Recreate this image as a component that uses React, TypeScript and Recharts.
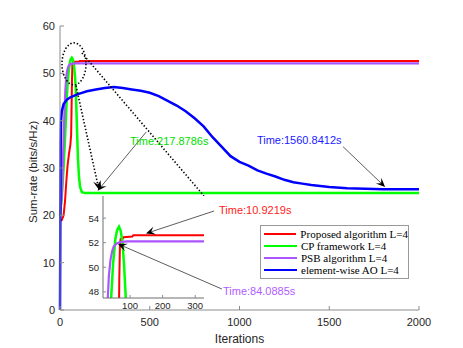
import React from "react";
import { LineChart, Line, XAxis, YAxis, ReferenceLine, ReferenceDot, CartesianGrid } from "recharts";

const W = 463;
const H = 348;

const redIter = [0, 10, 20, 28, 35, 42, 50, 58, 62, 65, 67, 69, 71, 78, 80, 107, 110, 2000];
const redRate = [18.8, 19, 20, 23, 27, 30.5, 33, 35, 37, 44, 49, 51.8, 52.3, 52.35, 52.45, 52.5, 52.6, 52.6];

const greenIter = [0, 10, 20, 30, 38, 42, 48, 55, 60, 66, 71, 77, 82, 87, 90, 95, 100, 106, 112, 122, 140, 2000];
const greenRate = [20, 24, 30, 38, 45, 47.5, 50.3, 52.3, 53, 53.3, 53, 52, 50, 47.5, 44, 38, 32, 28, 26, 24.9, 24.7, 24.7];

const purpleIter = [0, 10, 15, 20, 25, 30, 35, 40, 45, 50, 60, 70, 90, 2000];
const purpleRate = [20, 24, 30, 36, 42, 46.5, 49.3, 50.6, 51.3, 51.7, 51.95, 52.05, 52.1, 52.1];

const blueIter = [0, 2, 4, 6, 10, 20, 40, 60, 100, 150, 200, 250, 300, 350, 400, 450, 500, 550, 600, 650, 700, 750, 800, 850, 900, 950, 1000, 1050, 1100, 1150, 1200, 1250, 1300, 1350, 1400, 1450, 1500, 1600, 1700, 1800, 2000];
const blueRate = [0, 20, 35, 40, 42, 43.5, 44.5, 45, 45.6, 46.2, 46.6, 46.9, 47.1, 46.9, 46.6, 46.3, 45.9, 45.2, 44.2, 43.2, 42, 40.5, 38.8, 36.5, 34.5, 32.5, 31.3, 30.5, 29.5, 28.8, 28.2, 27.5, 27, 26.7, 26.4, 26.2, 26, 25.7, 25.6, 25.5, 25.5];

const xTicks = [0, 500, 1000, 1500, 2000];
const yTicks = [0, 10, 20, 30, 40, 50, 60];
const insetXTicks = [100, 200, 300];
const insetYTicks = [48, 50, 52, 54];

const series = [
  { name: "Proposed algorithm L=4", color: "#ff0000", width: 2, iter: redIter, rate: redRate },
  { name: "CP framework L=4", color: "#00ff00", width: 2.5, iter: greenIter, rate: greenRate },
  { name: "PSB algorithm L=4", color: "#aa55ff", width: 2.2, iter: purpleIter, rate: purpleRate },
  { name: "element-wise AO L=4", color: "#0000ff", width: 2.5, iter: blueIter, rate: blueRate },
];

const toRows = (iter: number[], rate: number[]) => iter.map((x, i) => ({ x, v: rate[i] }));

const SANS = "'Liberation Sans', Arial, Helvetica, sans-serif";
const SERIF = "'Liberation Serif', 'Times New Roman', serif";
const AXIS = "#8c8c8c";
const TXT = "#262626";

function tickFactory(side: "bottom" | "top" | "left" | "right", len: number, fs: number, gap: number, label: boolean) {
  return (p: any) => {
    const { x, y, payload } = p;
    if (side === "bottom" || side === "top") {
      const dir = side === "bottom" ? -1 : 1;
      return (
        <g>
          <line x1={x} y1={y} x2={x} y2={y + dir * len} stroke={AXIS} />
          {label && (
            <text x={x} y={y + gap} textAnchor="middle" fontSize={fs} fontFamily={SANS} fill={TXT}>
              {payload.value}
            </text>
          )}
        </g>
      );
    }
    const dir = side === "left" ? 1 : -1;
    return (
      <g>
        <line x1={x} y1={y} x2={x + dir * len} y2={y} stroke={AXIS} />
        {label && (
          <text x={x - gap} y={y + fs * 0.36} textAnchor="end" fontSize={fs} fontFamily={SANS} fill={TXT}>
            {payload.value}
          </text>
        )}
      </g>
    );
  };
}

function arrowShape(color: string, dash?: string, head = true, sw = 0.8) {
  return (p: any) => {
    const { x1, y1, x2, y2 } = p;
    const dx = x2 - x1;
    const dy = y2 - y1;
    const len = Math.sqrt(dx * dx + dy * dy) || 1;
    const ux = dx / len;
    const uy = dy / len;
    const nx = -uy;
    const ny = ux;
    const L = 9;
    const Wd = 4;
    const bx = x2 - ux * L;
    const by = y2 - uy * L;
    const mx = x2 - ux * L * 0.6;
    const my = y2 - uy * L * 0.6;
    return (
      <g>
        <line x1={x1} y1={y1} x2={head ? mx : x2} y2={head ? my : y2} stroke={color} strokeWidth={sw} strokeDasharray={dash} />
        {head && (
          <polygon
            points={`${x2},${y2} ${bx + nx * Wd},${by + ny * Wd} ${mx},${my} ${bx - nx * Wd},${by - ny * Wd}`}
            fill="#000"
          />
        )}
      </g>
    );
  };
}

function textShape(text: string, color: string) {
  return (p: any) => (
    <text x={p.cx} y={p.cy + 4} fontSize={11} fontFamily={SANS} fill={color}>
      {text}
    </text>
  );
}

const ellipseShape = (p: any) => (
  <ellipse cx={p.cx} cy={p.cy} rx={12} ry={21} fill="none" stroke="#000" strokeWidth={1.6} strokeDasharray="1.4 2" />
);

function MainChart() {
  return (
    <LineChart width={W} height={H} margin={{ top: 26, right: 44, left: 0, bottom: 8 }}>
      <XAxis
        xAxisId="b"
        type="number"
        dataKey="x"
        domain={[0, 2000]}
        ticks={xTicks}
        interval={0}
        height={30}
        tickSize={0}
        tickMargin={0}
        stroke={AXIS}
        tick={tickFactory("bottom", 4, 11, 16, true)}
        label={{ value: "Iterations", position: "insideBottom", offset: -3, fontSize: 12, fontFamily: SANS, fill: TXT }}
      />
      <XAxis
        xAxisId="t"
        orientation="top"
        type="number"
        dataKey="x"
        domain={[0, 2000]}
        ticks={xTicks}
        interval={0}
        height={0}
        tickSize={0}
        tickMargin={0}
        stroke={AXIS}
        tick={tickFactory("top", 4, 11, 0, false)}
      />
      <YAxis
        yAxisId="l"
        type="number"
        domain={[0, 60]}
        ticks={yTicks}
        interval={0}
        width={60}
        tickSize={0}
        tickMargin={0}
        stroke={AXIS}
        tick={tickFactory("left", 4, 11, 5, true)}
        label={{ value: "Sum-rate (bits/s/Hz)", angle: -90, position: "insideLeft", offset: 33, dy: 55, fontSize: 11.5, fontFamily: SANS, fill: TXT }}
      />
      <YAxis
        yAxisId="r"
        orientation="right"
        type="number"
        domain={[0, 60]}
        ticks={yTicks}
        interval={0}
        width={0}
        tickSize={0}
        tickMargin={0}
        stroke={AXIS}
        tick={tickFactory("right", 4, 11, 0, false)}
      />
      {series.map((s) => (
        <Line
          key={s.name}
          xAxisId="b"
          yAxisId="l"
          data={toRows(s.iter, s.rate)}
          dataKey="v"
          stroke={s.color}
          strokeWidth={s.width}
          dot={false}
          isAnimationActive={false}
        />
      ))}
      <ReferenceDot xAxisId="b" yAxisId="l" x={78} y={52} r={0} ifOverflow="visible" shape={ellipseShape} />
      <ReferenceLine xAxisId="b" yAxisId="l" ifOverflow="visible" segment={[{ x: 122, y: 54.3 }, { x: 802, y: 24.1 }]} shape={arrowShape("#000", "1.4 2", false, 1.6)} />
      <ReferenceLine xAxisId="b" yAxisId="l" ifOverflow="visible" segment={[{ x: 89, y: 47.4 }, { x: 217, y: 25.4 }]} shape={arrowShape("#000", "1.4 2", true, 1.6)} />
      <ReferenceLine xAxisId="b" yAxisId="l" ifOverflow="visible" segment={[{ x: 480, y: 37.6 }, { x: 210, y: 25.2 }]} shape={arrowShape("#333")} />
      <ReferenceLine xAxisId="b" yAxisId="l" ifOverflow="visible" segment={[{ x: 1577, y: 34.5 }, { x: 1811, y: 26.0 }]} shape={arrowShape("#333")} />
      <ReferenceDot xAxisId="b" yAxisId="l" x={390} y={35.7} r={0} ifOverflow="visible" shape={textShape("Time:217.8786s", "#00e000")} />
      <ReferenceDot xAxisId="b" yAxisId="l" x={1097} y={35.9} r={0} ifOverflow="visible" shape={textShape("Time:1560.8412s", "#1a1aff")} />
      <ReferenceDot xAxisId="b" yAxisId="l" x={886} y={21.1} r={0} ifOverflow="visible" shape={textShape("Time:10.9219s", "#ff1a1a")} />
      <ReferenceDot xAxisId="b" yAxisId="l" x={908} y={4.0} r={0} ifOverflow="visible" shape={textShape("Time:84.0885s", "#b25cff")} />
    </LineChart>
  );
}

function InsetChart() {
  return (
    <LineChart width={W} height={H} margin={{ top: 196, right: 259, left: 83, bottom: 37 }}>
      <CartesianGrid xAxisId="b" yAxisId="l" horizontal={false} vertical={false} fill="#fff" fillOpacity={1} />
      <XAxis
        xAxisId="b"
        type="number"
        dataKey="x"
        domain={[17, 327]}
        allowDataOverflow
        ticks={insetXTicks}
        interval={0}
        height={13}
        tickSize={0}
        tickMargin={0}
        stroke="#6e6e6e"
        tick={tickFactory("bottom", 3, 9.5, 11, true)}
      />
      <XAxis
        xAxisId="t"
        orientation="top"
        type="number"
        dataKey="x"
        domain={[17, 327]}
        allowDataOverflow
        ticks={insetXTicks}
        interval={0}
        height={0}
        tickSize={0}
        tickMargin={0}
        stroke="#6e6e6e"
        tick={tickFactory("top", 3, 9.5, 0, false)}
      />
      <YAxis
        yAxisId="l"
        type="number"
        domain={[47.5, 55.8]}
        allowDataOverflow
        ticks={insetYTicks}
        interval={0}
        width={20}
        tickSize={0}
        tickMargin={0}
        stroke="#6e6e6e"
        tick={tickFactory("left", 3, 9.5, 4, true)}
      />
      <YAxis
        yAxisId="r"
        orientation="right"
        type="number"
        domain={[47.5, 55.8]}
        allowDataOverflow
        ticks={insetYTicks}
        interval={0}
        width={0}
        tickSize={0}
        tickMargin={0}
        stroke="#6e6e6e"
        tick={tickFactory("right", 3, 9.5, 0, false)}
      />
      {series.map((s) => (
        <Line
          key={s.name}
          xAxisId="b"
          yAxisId="l"
          data={toRows(s.iter, s.rate)}
          dataKey="v"
          stroke={s.color}
          strokeWidth={s.width}
          dot={false}
          isAnimationActive={false}
        />
      ))}
      <ReferenceLine xAxisId="b" yAxisId="l" ifOverflow="visible" segment={[{ x: 358, y: 54.58 }, { x: 149, y: 52.75 }]} shape={arrowShape("#333")} />
      <ReferenceLine xAxisId="b" yAxisId="l" ifOverflow="visible" segment={[{ x: 382, y: 48.23 }, { x: 63, y: 51.9 }]} shape={arrowShape("#333")} />
    </LineChart>
  );
}

function LegendBox() {
  return (
    <div
      style={{
        position: "absolute",
        left: 260,
        top: 225,
        width: 147,
        height: 50,
        border: "1px solid #999",
        background: "#fff",
        padding: "2px 0 0 0",
      }}
    >
      {series.map((s) => (
        <div key={s.name} style={{ display: "flex", alignItems: "center", height: 12, fontFamily: SERIF, fontSize: 11, color: "#000" }}>
          <div style={{ width: 33, height: 2, background: s.color, marginLeft: 3, marginRight: 4 }} />
          <span style={{ whiteSpace: "nowrap" }}>{s.name}</span>
        </div>
      ))}
    </div>
  );
}

export default function App() {
  return (
    <div style={{ position: "absolute", left: 0, top: 0, width: W, height: H, background: "#fff" }}>
      <div style={{ position: "absolute", left: 0, top: 0 }}>
        <MainChart />
      </div>
      <div style={{ position: "absolute", left: 0, top: 0, pointerEvents: "none" }}>
        <InsetChart />
      </div>
      <LegendBox />
    </div>
  );
}
